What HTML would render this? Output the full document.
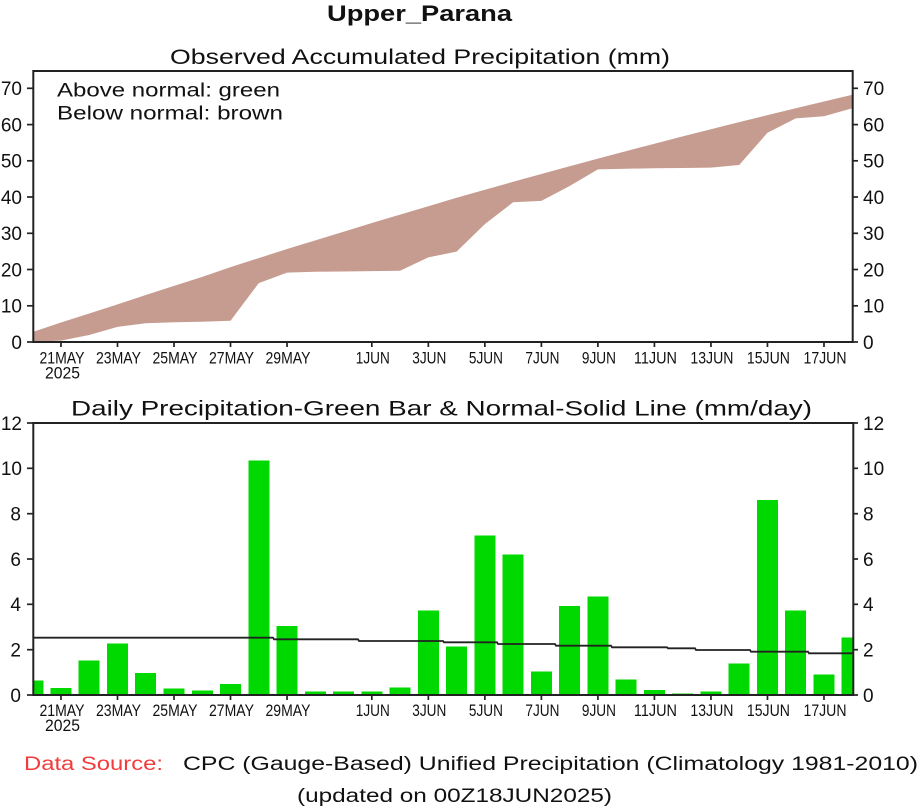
<!DOCTYPE html>
<html>
<head>
<meta charset="utf-8">
<style>
  html,body{margin:0;padding:0;background:#fff;}
  svg{display:block;}
  text{font-family:"Liberation Sans",sans-serif;fill:#111;}
</style>
</head>
<body>
<svg width="922" height="809" viewBox="0 0 922 809" xmlns="http://www.w3.org/2000/svg">
  <rect x="0" y="0" width="922" height="809" fill="#fff"/>

  <!-- Main title -->
  <text x="327" y="21" font-size="22" font-weight="bold" textLength="185" lengthAdjust="spacingAndGlyphs">Upper_Parana</text>
  <text x="170" y="64" font-size="21" textLength="500" lengthAdjust="spacingAndGlyphs">Observed Accumulated Precipitation (mm)</text>

  <!-- ===== Top chart ===== -->
  <polygon fill="#c79c90" points="33,331.9 60.96,322.5 89.22,313.5 117.48,304.4 145.74,295.0 174,285.9 202.26,276.9 230.52,267.1 258.78,258.1 287.04,249.0 315.3,240.4 343.56,231.7 371.82,223.0 400.08,214.6 428.34,206.3 456.6,197.8 484.86,189.7 513.12,181.8 541.38,174.0 569.64,166.2 597.9,158.6 626.16,151.1 654.42,143.7 682.68,136.4 710.94,129.2 739.2,122.1 767.46,115.1 795.72,108.3 823.98,101.5 852.3,94.8 852.3,108.2 823.98,116.2 795.72,118.4 767.46,132.8 739.2,165.0 710.94,167.6 682.68,168.0 654.42,168.3 626.16,168.7 597.9,169.4 569.64,186.0 541.38,200.9 513.12,202.3 484.86,224.1 456.6,251.6 428.34,257.4 400.08,270.7 371.82,271.1 343.56,271.5 315.3,271.8 287.04,272.6 258.78,283.1 230.52,320.7 202.26,321.8 174,322.3 145.74,323.2 117.48,326.9 89.22,335.0 60.96,340.6 33,341.7"/>

  <rect x="33.3" y="71" width="819.4" height="271" fill="none" stroke="#222" stroke-width="2"/>

  <text x="57" y="96.5" font-size="19" textLength="223" lengthAdjust="spacingAndGlyphs">Above normal: green</text>
  <text x="57" y="119.5" font-size="19" textLength="226" lengthAdjust="spacingAndGlyphs">Below normal: brown</text>

  <!-- top y ticks -->
  <g stroke="#222" stroke-width="1.7">
    <line x1="27" y1="342" x2="33" y2="342"/><line x1="27" y1="305.8" x2="33" y2="305.8"/>
    <line x1="27" y1="269.5" x2="33" y2="269.5"/><line x1="27" y1="233.3" x2="33" y2="233.3"/>
    <line x1="27" y1="197" x2="33" y2="197"/><line x1="27" y1="160.8" x2="33" y2="160.8"/>
    <line x1="27" y1="124.6" x2="33" y2="124.6"/><line x1="27" y1="88.3" x2="33" y2="88.3"/>
    <line x1="853" y1="342" x2="858" y2="342"/><line x1="853" y1="305.8" x2="858" y2="305.8"/>
    <line x1="853" y1="269.5" x2="858" y2="269.5"/><line x1="853" y1="233.3" x2="858" y2="233.3"/>
    <line x1="853" y1="197" x2="858" y2="197"/><line x1="853" y1="160.8" x2="858" y2="160.8"/>
    <line x1="853" y1="124.6" x2="858" y2="124.6"/><line x1="853" y1="88.3" x2="858" y2="88.3"/>
  </g>
  <g font-size="19" text-anchor="end">
    <text x="22" y="348.8">0</text><text x="22" y="312.6">10</text><text x="22" y="276.3">20</text>
    <text x="22" y="240.1">30</text><text x="22" y="203.8">40</text><text x="22" y="167.6">50</text>
    <text x="22" y="131.4">60</text><text x="22" y="95.1">70</text>
  </g>
  <g font-size="19">
    <text x="863" y="348.8">0</text><text x="863" y="312.6">10</text><text x="863" y="276.3">20</text>
    <text x="863" y="240.1">30</text><text x="863" y="203.8">40</text><text x="863" y="167.6">50</text>
    <text x="863" y="131.4">60</text><text x="863" y="95.1">70</text>
  </g>

  <!-- top x ticks -->
  <g stroke="#222" stroke-width="1.7">
    <line x1="60.96" y1="342" x2="60.96" y2="347"/><line x1="117.48" y1="342" x2="117.48" y2="347"/>
    <line x1="174" y1="342" x2="174" y2="347"/><line x1="230.52" y1="342" x2="230.52" y2="347"/>
    <line x1="287.04" y1="342" x2="287.04" y2="347"/><line x1="371.82" y1="342" x2="371.82" y2="347"/>
    <line x1="428.34" y1="342" x2="428.34" y2="347"/><line x1="484.86" y1="342" x2="484.86" y2="347"/>
    <line x1="541.38" y1="342" x2="541.38" y2="347"/><line x1="597.9" y1="342" x2="597.9" y2="347"/>
    <line x1="654.42" y1="342" x2="654.42" y2="347"/><line x1="710.94" y1="342" x2="710.94" y2="347"/>
    <line x1="767.46" y1="342" x2="767.46" y2="347"/><line x1="823.98" y1="342" x2="823.98" y2="347"/>
  </g>
  <g font-size="17">
    <text x="39.5" y="363.5" textLength="45" lengthAdjust="spacingAndGlyphs">21MAY</text>
    <text x="45" y="378.5" textLength="35" lengthAdjust="spacingAndGlyphs">2025</text>
    <text x="96" y="363.5" textLength="45" lengthAdjust="spacingAndGlyphs">23MAY</text>
    <text x="152.5" y="363.5" textLength="45" lengthAdjust="spacingAndGlyphs">25MAY</text>
    <text x="209" y="363.5" textLength="45" lengthAdjust="spacingAndGlyphs">27MAY</text>
    <text x="265.5" y="363.5" textLength="45" lengthAdjust="spacingAndGlyphs">29MAY</text>
    <text x="355.8" y="363.5" textLength="34" lengthAdjust="spacingAndGlyphs">1JUN</text>
    <text x="412.3" y="363.5" textLength="34" lengthAdjust="spacingAndGlyphs">3JUN</text>
    <text x="468.9" y="363.5" textLength="34" lengthAdjust="spacingAndGlyphs">5JUN</text>
    <text x="525.4" y="363.5" textLength="34" lengthAdjust="spacingAndGlyphs">7JUN</text>
    <text x="581.9" y="363.5" textLength="34" lengthAdjust="spacingAndGlyphs">9JUN</text>
    <text x="633.9" y="363.5" textLength="43" lengthAdjust="spacingAndGlyphs">11JUN</text>
    <text x="690.4" y="363.5" textLength="43" lengthAdjust="spacingAndGlyphs">13JUN</text>
    <text x="746.9" y="363.5" textLength="43" lengthAdjust="spacingAndGlyphs">15JUN</text>
    <text x="803.5" y="363.5" textLength="43" lengthAdjust="spacingAndGlyphs">17JUN</text>
  </g>

  <!-- ===== Bottom chart ===== -->
  <text x="71" y="415.5" font-size="21" textLength="741" lengthAdjust="spacingAndGlyphs">Daily Precipitation-Green Bar &amp; Normal-Solid Line (mm/day)</text>

  <g fill="#00d900" shape-rendering="crispEdges">
    <rect x="33" y="680.7" width="10.3" height="14.3"/>
    <rect x="50.46" y="688.2" width="21" height="6.8"/>
    <rect x="78.72" y="660.3" width="21" height="34.7"/>
    <rect x="106.98" y="643.3" width="21" height="51.7"/>
    <rect x="135.24" y="672.8" width="21" height="22.2"/>
    <rect x="163.5" y="688.7" width="21" height="6.3"/>
    <rect x="191.76" y="690.5" width="21" height="4.5"/>
    <rect x="220.02" y="683.9" width="21" height="11.1"/>
    <rect x="248.28" y="460.6" width="21" height="234.4"/>
    <rect x="276.54" y="626.1" width="21" height="68.9"/>
    <rect x="304.8" y="691.6" width="21" height="3.4"/>
    <rect x="333.06" y="691.6" width="21" height="3.4"/>
    <rect x="361.32" y="691.6" width="21" height="3.4"/>
    <rect x="389.58" y="687.3" width="21" height="7.7"/>
    <rect x="417.84" y="610.7" width="21" height="84.3"/>
    <rect x="446.1" y="646.7" width="21" height="48.3"/>
    <rect x="474.36" y="535.6" width="21" height="159.4"/>
    <rect x="502.62" y="554.4" width="21" height="140.6"/>
    <rect x="530.88" y="671.6" width="21" height="23.4"/>
    <rect x="559.14" y="605.9" width="21" height="89.1"/>
    <rect x="587.4" y="596.6" width="21" height="98.4"/>
    <rect x="615.66" y="679.4" width="21" height="15.6"/>
    <rect x="643.92" y="690" width="21" height="5"/>
    <rect x="672.18" y="693.6" width="21" height="1.4"/>
    <rect x="700.44" y="691.6" width="21" height="3.4"/>
    <rect x="728.7" y="663.3" width="21" height="31.7"/>
    <rect x="756.96" y="500" width="21" height="195"/>
    <rect x="785.22" y="610.7" width="21" height="84.3"/>
    <rect x="813.48" y="674.6" width="21" height="20.4"/>
    <rect x="841.74" y="637.4" width="10.8" height="57.6"/>
  </g>

  <!-- normal line -->
  <polyline fill="none" stroke="#222" stroke-width="1.8" points="33,637.7 273,637.7 274,639.3 358,639.3 359,641 443,641 444,642.3 497,642.3 498,644 555,644 556,645.7 611,645.7 612,647.3 667,647.3 668,648.3 695,648.3 696,650 750,650 751,651.7 808,651.7 809,653.3 853,653.3"/>

  <rect x="33.3" y="423" width="820" height="272" fill="none" stroke="#222" stroke-width="2"/>

  <!-- bottom y ticks -->
  <g stroke="#222" stroke-width="1.7">
    <line x1="27" y1="695" x2="33" y2="695"/><line x1="27" y1="649.7" x2="33" y2="649.7"/>
    <line x1="27" y1="604.3" x2="33" y2="604.3"/><line x1="27" y1="559" x2="33" y2="559"/>
    <line x1="27" y1="513.7" x2="33" y2="513.7"/><line x1="27" y1="468.3" x2="33" y2="468.3"/>
    <line x1="27" y1="423" x2="33" y2="423"/>
    <line x1="853" y1="695" x2="858" y2="695"/><line x1="853" y1="649.7" x2="858" y2="649.7"/>
    <line x1="853" y1="604.3" x2="858" y2="604.3"/><line x1="853" y1="559" x2="858" y2="559"/>
    <line x1="853" y1="513.7" x2="858" y2="513.7"/><line x1="853" y1="468.3" x2="858" y2="468.3"/>
    <line x1="853" y1="423" x2="858" y2="423"/>
  </g>
  <g font-size="19" text-anchor="end">
    <text x="21" y="701.8">0</text><text x="21" y="656.5">2</text><text x="21" y="611.1">4</text>
    <text x="21" y="565.8">6</text><text x="21" y="520.5">8</text><text x="22" y="475.1">10</text>
    <text x="22" y="429.8">12</text>
  </g>
  <g font-size="19">
    <text x="863" y="701.8">0</text><text x="863" y="656.5">2</text><text x="863" y="611.1">4</text>
    <text x="863" y="565.8">6</text><text x="863" y="520.5">8</text><text x="863" y="475.1">10</text>
    <text x="863" y="429.8">12</text>
  </g>

  <!-- bottom x ticks -->
  <g stroke="#222" stroke-width="1.7">
    <line x1="60.96" y1="695" x2="60.96" y2="700"/><line x1="117.48" y1="695" x2="117.48" y2="700"/>
    <line x1="174" y1="695" x2="174" y2="700"/><line x1="230.52" y1="695" x2="230.52" y2="700"/>
    <line x1="287.04" y1="695" x2="287.04" y2="700"/><line x1="371.82" y1="695" x2="371.82" y2="700"/>
    <line x1="428.34" y1="695" x2="428.34" y2="700"/><line x1="484.86" y1="695" x2="484.86" y2="700"/>
    <line x1="541.38" y1="695" x2="541.38" y2="700"/><line x1="597.9" y1="695" x2="597.9" y2="700"/>
    <line x1="654.42" y1="695" x2="654.42" y2="700"/><line x1="710.94" y1="695" x2="710.94" y2="700"/>
    <line x1="767.46" y1="695" x2="767.46" y2="700"/><line x1="823.98" y1="695" x2="823.98" y2="700"/>
  </g>
  <g font-size="17">
    <text x="39.5" y="716" textLength="45" lengthAdjust="spacingAndGlyphs">21MAY</text>
    <text x="45" y="731" textLength="35" lengthAdjust="spacingAndGlyphs">2025</text>
    <text x="96" y="716" textLength="45" lengthAdjust="spacingAndGlyphs">23MAY</text>
    <text x="152.5" y="716" textLength="45" lengthAdjust="spacingAndGlyphs">25MAY</text>
    <text x="209" y="716" textLength="45" lengthAdjust="spacingAndGlyphs">27MAY</text>
    <text x="265.5" y="716" textLength="45" lengthAdjust="spacingAndGlyphs">29MAY</text>
    <text x="355.8" y="716" textLength="34" lengthAdjust="spacingAndGlyphs">1JUN</text>
    <text x="412.3" y="716" textLength="34" lengthAdjust="spacingAndGlyphs">3JUN</text>
    <text x="468.9" y="716" textLength="34" lengthAdjust="spacingAndGlyphs">5JUN</text>
    <text x="525.4" y="716" textLength="34" lengthAdjust="spacingAndGlyphs">7JUN</text>
    <text x="581.9" y="716" textLength="34" lengthAdjust="spacingAndGlyphs">9JUN</text>
    <text x="633.9" y="716" textLength="43" lengthAdjust="spacingAndGlyphs">11JUN</text>
    <text x="690.4" y="716" textLength="43" lengthAdjust="spacingAndGlyphs">13JUN</text>
    <text x="746.9" y="716" textLength="43" lengthAdjust="spacingAndGlyphs">15JUN</text>
    <text x="803.5" y="716" textLength="43" lengthAdjust="spacingAndGlyphs">17JUN</text>
  </g>

  <!-- footer -->
  <text x="24" y="770" font-size="19" textLength="139" lengthAdjust="spacingAndGlyphs" style="fill:#f03c3c">Data Source:</text>
  <text x="183" y="770" font-size="19" textLength="735" lengthAdjust="spacingAndGlyphs">CPC (Gauge-Based) Unified Precipitation (Climatology 1981-2010)</text>
  <text x="297" y="802" font-size="19" textLength="315" lengthAdjust="spacingAndGlyphs">(updated on 00Z18JUN2025)</text>
</svg>
</body>
</html>
